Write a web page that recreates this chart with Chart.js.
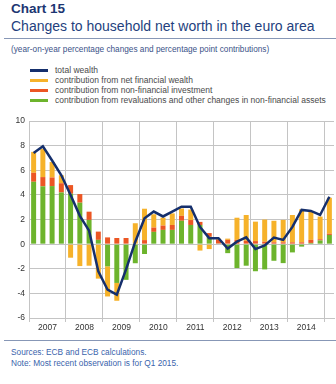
<!DOCTYPE html>
<html>
<head>
<meta charset="utf-8">
<script src="https://cdn.jsdelivr.net/npm/chart.js@4/dist/chart.umd.min.js"></script>
<style>
  html, body { margin: 0; padding: 0; background: #fff; }
  body { width: 336px; height: 384px; position: relative; overflow: hidden;
         font-family: "Liberation Sans", Arial, sans-serif; }
  .abs { position: absolute; white-space: nowrap; }
  #num { left: 11px; top: 1px; font-size: 13.5px; font-weight: bold; color: #1c3672; }
  #title { left: 11px; top: 18px; font-size: 14px; color: #243f7e; }
  .rule { position: absolute; left: 4px; width: 332px; height: 1.5px; background: #8797b6; }
  #sub { left: 11px; top: 45px; font-size: 8.25px; color: #3b5288; }
  #legend { left: 30px; top: 65px; font-size: 8.5px; color: #4a4a4a; }
  .row { height: 10px; line-height: 10px; position: relative; }
  .sw { position: absolute; left: 0; top: 4px; width: 18px; height: 2.5px; }
  .lt { position: absolute; left: 25px; top: 0; }
  #wrap { position: absolute; left: 0; top: 112px; width: 336px; height: 224px; }
  #src { left: 11px; top: 347px; font-size: 8.3px; color: #3a64ac; line-height: 11px; }
</style>
</head>
<body>
<div id="num" class="abs">Chart 15</div>
<div id="title" class="abs">Changes to household net worth in the euro area</div>
<div class="rule" style="top:37.5px"></div>
<div id="sub" class="abs">(year-on-year percentage changes and percentage point contributions)</div>
<div id="legend" class="abs"></div>
<div id="wrap"><canvas id="c" width="336" height="224"></canvas></div>
<div class="rule" style="top:339.5px"></div>
<div id="src" class="abs">Sources: ECB and ECB calculations.<br>Note: Most recent observation is for Q1 2015.</div>

<script>
// Quarterly observations, 2007 Q1 to 2015 Q1
const years = ['2007', '2008', '2009', '2010', '2011', '2012', '2013', '2014'];
const quarters = [];
for (const y of years.concat(['2015'])) {
  for (let q = 1; q <= 4; q++) {
    if (y === '2015' && q > 1) break;
    quarters.push(y + ' Q' + q);
  }
}

// total wealth, year-on-year % change
const totalWealth = [
  7.4, 7.95, 6.8, 5.6,
  4.0, 2.3, 1.1, -2.2,
  -3.7, -4.1, -2.05, 0.2,
  2.1, 2.65, 2.25, 2.65,
  3.05, 3.05, 1.4, 0.49,
  0.49, -0.35, 0.2, 0.55,
  -0.4, -0.1, 0.54, 0.35,
  1.4, 2.78, 2.7, 2.37,
  3.85
];

// contribution from revaluations and other changes in non-financial assets
const revaluations = [
  5.07, 4.7, 4.72, 4.2,
  4.1, 3.37, 1.97, 0.35,
  -1.8, -3.15, -2.9, -1.55,
  -0.8, 1.0, 1.16, 1.16,
  1.9, 1.56, 1.56, 0.6,
  0.05, -0.73, -1.94, -1.75,
  -2.2, -2.05, -1.35, -1.54,
  -0.67, -0.2, 0.1, 0.3,
  0.75
];

// contribution from non-financial investment
const nonFinInvestment = [
  0.73, 0.75, 0.7, 0.75,
  0.7, 0.7, 0.67, 0.67,
  0.55, 0.5, 0.5, 0.0,
  0.33, 0.35, 0.35, 0.4,
  0.4, 0.4, 0.25, 0.3,
  0.3, 0.35, 0.35, 0.27,
  0.25, 0.2, 0.15, 0.15,
  0.15, 0.15, 0.25, 0.1,
  0.1
];

// contribution from net financial wealth
const netFinancial = [
  1.7, 2.3, 1.26, 0.65,
  -1.1, -1.78, -1.75, -2.8,
  -2.45, -1.45, 0.0, 1.7,
  2.55, 1.08, 0.65, 0.94,
  0.6, 0.85, -0.52, -0.4,
  0.1, 0.1, 1.8, 2.1,
  1.58, 1.8, 1.75, 1.82,
  2.22, 2.68, 2.29, 1.84,
  2.92
];

const yTicks = [-6, -4, -2, 0, 2, 4, 6, 8, 10];

const seriesNames = [
  'total wealth',
  'contribution from net financial wealth',
  'contribution from non-financial investment',
  'contribution from revaluations and other changes in non-financial assets'
];
const NAVY = '#152f6c', YELLOW = '#f6b22a', RED = '#ec5623', GREEN = '#6db42c';
const GRID = '#c4c4c4';

// legend rows
const legendColors = [NAVY, YELLOW, RED, GREEN];
const legend = document.getElementById('legend');
seriesNames.forEach((name, i) => {
  const row = document.createElement('div');
  row.className = 'row';
  row.innerHTML = '<span class="sw" style="background:' + legendColors[i] + '"></span>' +
                  '<span class="lt"></span>';
  row.querySelector('.lt').textContent = name;
  legend.appendChild(row);
});

Chart.defaults.font.family = '"Liberation Sans", Arial, sans-serif';
Chart.defaults.font.size = 8.5;
Chart.defaults.color = '#333';

new Chart(document.getElementById('c'), {
  type: 'bar',
  data: {
    labels: quarters,
    datasets: [
      { type: 'line', label: seriesNames[0], data: totalWealth, borderColor: NAVY,
        borderWidth: 2.5, pointRadius: 0, tension: 0, order: 0, stack: 'total' },
      { label: seriesNames[3], data: revaluations, backgroundColor: GREEN, order: 1, stack: 'contrib' },
      { label: seriesNames[2], data: nonFinInvestment, backgroundColor: RED, order: 1, stack: 'contrib' },
      { label: seriesNames[1], data: netFinancial, backgroundColor: YELLOW, order: 1, stack: 'contrib' }
    ]
  },
  options: {
    responsive: false,
    animation: false,
    devicePixelRatio: 1,
    layout: { padding: { top: 8, right: 2, left: 0, bottom: 0 } },
    datasets: { bar: { categoryPercentage: 0.9, barPercentage: 0.6, borderWidth: 0 } },
    plugins: { legend: { display: false }, tooltip: { enabled: false } },
    scales: {
      x: {
        stacked: true,
        offset: true,
        grid: {
          offset: true,
          drawTicks: true,
          tickLength: 4,
          color: (ctx) => (ctx.index % 4 === 0 || ctx.index === quarters.length) ? GRID : 'rgba(0,0,0,0)'
        },
        border: { color: GRID },
        ticks: {
          autoSkip: false,
          maxRotation: 0,
          padding: 1,
          labelOffset: 4.6,
          callback: (v, i) => (i % 4 === 1 && years[Math.floor(i / 4)]) ? years[Math.floor(i / 4)] : ''
        },
        afterFit: (s) => { s.height = 18; }
      },
      y: {
        stacked: true,
        min: yTicks[0],
        max: yTicks[yTicks.length - 1],
        afterBuildTicks: (s) => { s.ticks = yTicks.map(v => ({ value: v })); },
        grid: { color: GRID, drawTicks: false },
        border: { color: GRID },
        ticks: { padding: 4 },
        afterFit: (s) => { s.width = 29; }
      }
    }
  }
});
</script>
</body>
</html>
